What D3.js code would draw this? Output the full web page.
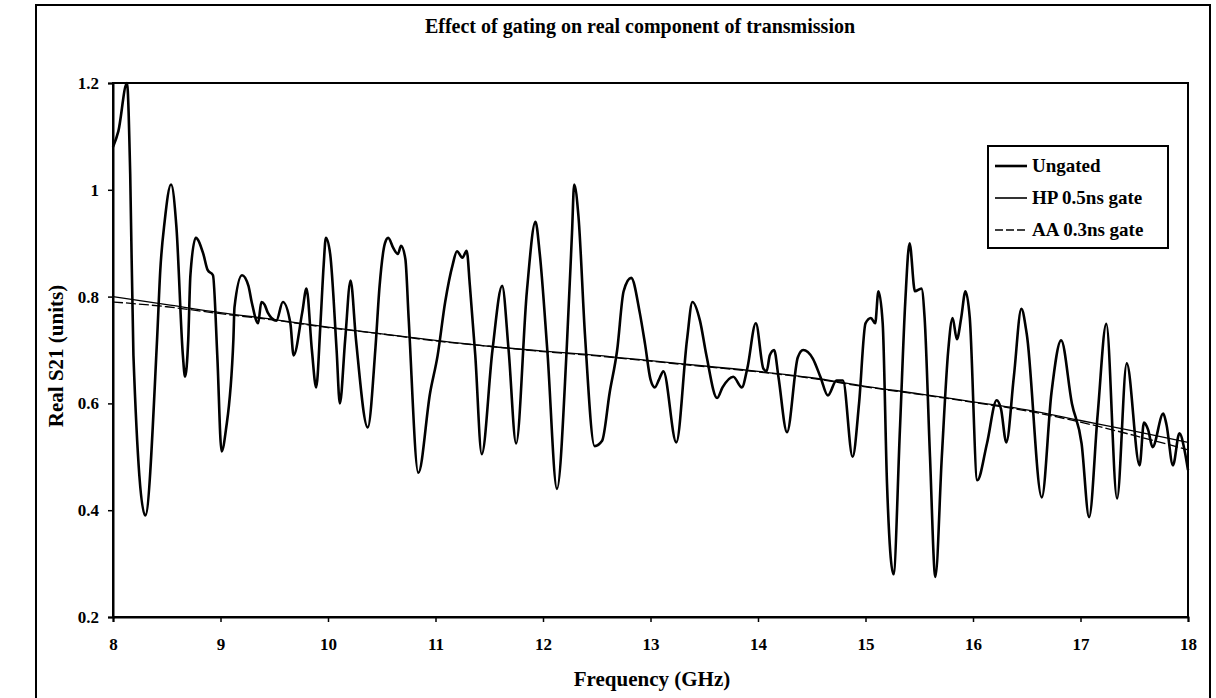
<!DOCTYPE html>
<html lang="en">
<head>
<meta charset="UTF-8">
<title>Effect of gating on real component of transmission</title>
<script src="https://d3js.org/d3.v7.min.js"></script>
<style>
  body { margin: 0; background: #fff; }
  text { font-family: "Liberation Serif", "Times New Roman", serif; font-weight: bold; fill: #000; }
</style>
</head>
<body>
<div id="chart"></div>
<script>
// ungated measurement (freq in GHz, real S21)
const ungatedFreq = [8.00,8.05,8.13,8.16,8.19,8.30,8.41,8.44,8.48,8.54,8.59,8.65,8.67,8.70,8.72,8.77,8.84,8.88,8.93,8.97,
  9.01,9.05,9.12,9.13,9.20,9.26,9.29,9.35,9.38,9.41,9.44,9.52,9.58,9.65,9.68,9.76,9.80,9.85,9.89,9.93,9.96,9.98,
  10.02,10.08,10.11,10.16,10.21,10.26,10.37,10.44,10.48,10.53,10.56,10.61,10.65,10.68,10.72,10.75,10.84,10.95,
  11.02,11.09,11.16,11.20,11.25,11.29,11.32,11.37,11.43,11.53,11.62,11.68,11.75,11.85,11.93,11.97,
  12.04,12.13,12.22,12.27,12.29,12.33,12.39,12.48,12.55,12.62,12.69,12.75,12.82,12.90,12.95,
  13.00,13.04,13.08,13.12,13.24,13.34,13.39,13.46,13.52,13.62,13.67,13.77,13.85,13.90,13.98,
  14.05,14.08,14.11,14.15,14.19,14.27,14.37,14.42,14.51,14.58,14.65,14.73,14.79,14.88,14.94,
  15.00,15.05,15.09,15.12,15.16,15.20,15.26,15.32,15.37,15.41,15.46,15.52,15.55,15.60,15.65,15.71,15.77,15.81,15.85,15.89,15.93,15.97,
  16.04,16.13,16.22,16.26,16.31,16.38,16.45,16.50,16.64,16.73,16.82,16.92,
  17.01,17.08,17.16,17.24,17.34,17.43,17.55,17.59,17.63,17.67,17.77,17.80,17.86,17.92,17.97,18.00];
const ungatedVal = [1.08,1.11,1.20,1.03,0.69,0.39,0.72,0.85,0.94,1.01,0.93,0.69,0.65,0.72,0.84,0.91,0.88,0.85,0.84,0.69,
  0.51,0.55,0.72,0.78,0.84,0.82,0.79,0.75,0.79,0.785,0.77,0.755,0.79,0.75,0.69,0.77,0.815,0.70,0.63,0.75,0.86,0.91,
  0.88,0.70,0.60,0.72,0.83,0.72,0.555,0.70,0.82,0.90,0.91,0.89,0.88,0.895,0.87,0.76,0.47,0.62,
  0.69,0.79,0.86,0.885,0.873,0.886,0.82,0.69,0.505,0.70,0.82,0.70,0.525,0.81,0.94,0.88,
  0.70,0.44,0.70,0.92,1.01,0.95,0.73,0.52,0.53,0.62,0.70,0.81,0.835,0.77,0.71,
  0.645,0.63,0.645,0.66,0.527,0.72,0.79,0.755,0.69,0.61,0.63,0.65,0.63,0.665,0.75,
  0.665,0.66,0.69,0.70,0.65,0.546,0.686,0.70,0.684,0.65,0.615,0.643,0.643,0.50,0.60,
  0.75,0.76,0.75,0.81,0.75,0.45,0.28,0.55,0.79,0.90,0.81,0.815,0.76,0.50,0.275,0.50,0.70,0.76,0.72,0.76,0.81,0.76,
  0.456,0.525,0.606,0.59,0.527,0.65,0.777,0.73,0.424,0.62,0.718,0.60,
  0.525,0.387,0.58,0.749,0.422,0.675,0.484,0.564,0.55,0.518,0.581,0.56,0.484,0.544,0.51,0.475];

// gated results
const gateFreq = [8,8.5,9,9.5,10,10.5,11,11.5,12,12.5,13,13.5,14,14.5,15,15.5,16,16.5,17,17.5,18];
const hpVal = [0.800,0.785,0.770,0.757,0.743,0.730,0.718,0.707,0.698,0.690,0.680,0.670,0.660,0.648,0.632,0.618,0.603,0.588,0.568,0.548,0.527];
const aaVal = [0.790,0.781,0.768,0.756,0.742,0.730,0.717,0.707,0.697,0.689,0.679,0.669,0.659,0.647,0.631,0.617,0.602,0.586,0.565,0.540,0.513];

const xTicks = [8,9,10,11,12,13,14,15,16,17,18];
const yTicks = [0.2,0.4,0.6,0.8,1.0,1.2];
const legendNames = ["Ungated", "HP 0.5ns gate", "AA 0.3ns gate"];

const W = 1216, H = 698;
const margin = { top: 83, right: 28, bottom: 81, left: 113 };
const width = W - margin.left - margin.right;
const height = H - margin.top - margin.bottom;

const svg = d3.select("#chart").append("svg")
  .attr("width", W).attr("height", H);

// outer frame (bottom edge falls outside the picture)
svg.append("rect")
  .attr("x", 36).attr("y", 5).attr("width", 1174).attr("height", 720)
  .attr("fill", "none").attr("stroke", "#000").attr("stroke-width", 2);

const g = svg.append("g").attr("transform", `translate(${margin.left},${margin.top})`);

const x = d3.scaleLinear().domain([8, 18]).range([0, width]);
const y = d3.scaleLinear().domain([0.2, 1.2]).range([height, 0]);

// plot border
g.append("rect").attr("width", width).attr("height", height)
  .attr("fill", "none").attr("stroke", "#000").attr("stroke-width", 2);

const xAxis = g.append("g").attr("transform", `translate(0,${height})`)
  .call(d3.axisBottom(x).tickValues(xTicks).tickFormat(d3.format("d")).tickSize(5).tickPadding(16));
const yAxis = g.append("g")
  .call(d3.axisLeft(y).tickValues(yTicks).tickFormat(d => d === 1 ? "1" : d3.format(".1f")(d)).tickSize(5).tickPadding(9));
[xAxis, yAxis].forEach(a => {
  a.select(".domain").attr("stroke-width", 2);
  a.selectAll(".tick line").attr("stroke-width", 1.5);
  a.selectAll("text").style("font-size", "17px")
    .style("font-family", "'Liberation Serif', serif").style("font-weight", "bold");
});

const line = d3.line().x(d => x(d[0])).y(d => y(d[1])).curve(d3.curveMonotoneX);

const hpData = gateFreq.map((f, i) => [f, hpVal[i]]);
const aaData = gateFreq.map((f, i) => [f, aaVal[i]]);
const ungData = ungatedFreq.map((f, i) => [f, ungatedVal[i]]);

g.append("path").datum(aaData).attr("d", line)
  .attr("fill", "none").attr("stroke", "#000").attr("stroke-width", 1.3).attr("stroke-dasharray", "10,3");
g.append("path").datum(hpData).attr("d", line)
  .attr("fill", "none").attr("stroke", "#000").attr("stroke-width", 1.3);
g.append("path").datum(ungData).attr("d", line)
  .attr("fill", "none").attr("stroke", "#000").attr("stroke-width", 2.6).attr("stroke-linejoin", "round");

// titles
svg.append("text").attr("x", 640).attr("y", 33).attr("text-anchor", "middle")
  .style("font-size", "20px").text("Effect of gating on real component of transmission");
svg.append("text").attr("x", 652).attr("y", 686).attr("text-anchor", "middle")
  .style("font-size", "21px").text("Frequency (GHz)");
svg.append("text").attr("transform", "translate(63,356) rotate(-90)").attr("text-anchor", "middle")
  .style("font-size", "21px").text("Real S21 (units)");

// legend
const lg = svg.append("g");
lg.append("rect").attr("x", 988).attr("y", 146).attr("width", 180).attr("height", 102)
  .attr("fill", "#fff").attr("stroke", "#000").attr("stroke-width", 2);
const dashes = [null, null, "8,3"];
const widths = [2.6, 1.6, 1.3];
legendNames.forEach((name, i) => {
  const yy = 166 + i * 32;
  lg.append("line").attr("x1", 995).attr("x2", 1027).attr("y1", yy).attr("y2", yy)
    .attr("stroke", "#000").attr("stroke-width", widths[i]).attr("stroke-dasharray", dashes[i]);
  lg.append("text").attr("x", 1032).attr("y", yy + 6).style("font-size", "19px").text(name);
});
</script>
</body>
</html>
